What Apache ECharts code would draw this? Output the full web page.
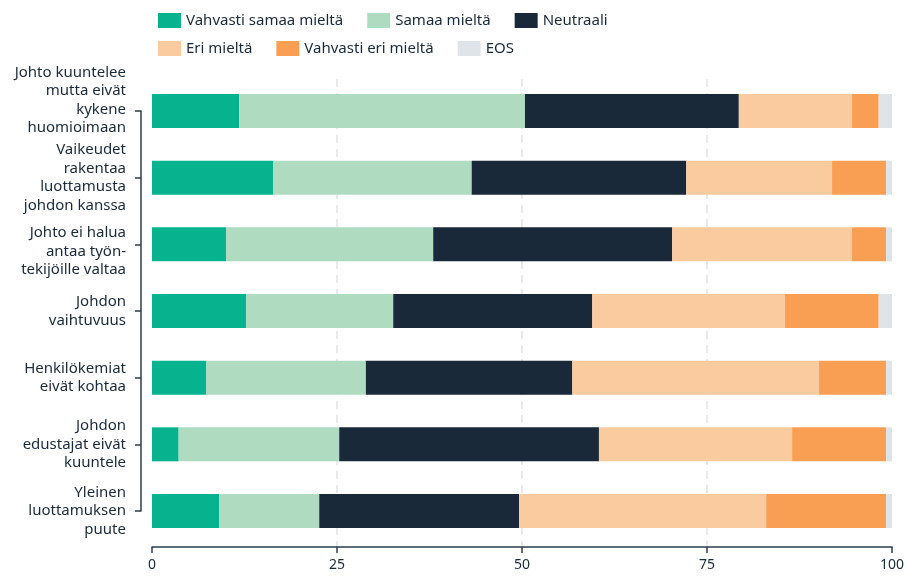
<!DOCTYPE html>
<html>
<head>
<meta charset="utf-8">
<script src="https://cdn.jsdelivr.net/npm/echarts@6/dist/echarts.min.js"></script>
<style>
  html, body { margin: 0; padding: 0; background: #fff; }
  #chart { width: 908px; height: 580px; }
</style>
</head>
<body>
<div id="chart"></div>
<script>
var categories = [
  'Johto kuuntelee\nmutta eivät\nkykene\nhuomioimaan',
  'Vaikeudet\nrakentaa\nluottamusta\njohdon kanssa',
  'Johto ei halua\nantaa työn-\ntekijöille valtaa',
  'Johdon\nvaihtuvuus',
  'Henkilökemiat\neivät kohtaa',
  'Johdon\nedustajat eivät\nkuuntele',
  'Yleinen\nluottamuksen\npuute'
];
var vahvastiSamaa = [11.8, 16.4, 10.0, 12.7, 7.3, 3.6, 9.1];
var samaa = [38.6, 26.8, 28.0, 19.9, 21.6, 21.7, 13.5];
var neutraali = [28.9, 29.0, 32.3, 26.9, 27.9, 35.1, 27.0];
var eri = [15.3, 19.7, 24.3, 26.0, 33.3, 26.1, 33.4];
var vahvastiEri = [3.6, 7.3, 4.6, 12.7, 9.1, 12.7, 16.2];
var eos = [1.8, 0.8, 0.8, 1.8, 0.8, 0.8, 0.8];
var xTicks = [0, 25, 50, 75, 100];

var names = ['Vahvasti samaa mieltä', 'Samaa mieltä', 'Neutraali', 'Eri mieltä', 'Vahvasti eri mieltä', 'EOS'];
var values = [vahvastiSamaa, samaa, neutraali, eri, vahvastiEri, eos];
var colors = ['#06b38e', '#afdbc1', '#19293a', '#fbcba0', '#f99f54', '#dfe4e8'];

var font = 'Noto Sans';
var textColor = '#1b2a39';
var lineColor = '#2e3d4d';

// a few labels sit slightly off their tick in the original
var padBelow = { 0: 22 };
var padAbove = { 2: 14 };

var chart = echarts.init(document.getElementById('chart'));

var legendBase = {
  left: 153,
  itemWidth: 23,
  itemHeight: 15,
  itemGap: 24,
  icon: 'rect',
  textStyle: { fontSize: 15, color: textColor, fontFamily: font }
};

chart.setOption({
  animation: false,
  color: colors,
  legend: [
    Object.assign({ top: 8, data: names.slice(0, 3) }, legendBase),
    Object.assign({ top: 36, data: names.slice(3) }, legendBase)
  ],
  grid: [
    { left: 152, right: 16, top: 79, bottom: 33 },
    { left: 152, right: 16, top: 111, bottom: 69 }
  ],
  xAxis: [{
    gridIndex: 0,
    type: 'value',
    min: xTicks[0],
    max: xTicks[xTicks.length - 1],
    interval: xTicks[1] - xTicks[0],
    axisLine: { show: true, lineStyle: { color: lineColor, width: 1.5 } },
    axisTick: { show: true, length: 6, lineStyle: { color: lineColor, width: 1.5 } },
    axisLabel: { fontSize: 14, color: textColor, fontFamily: font, margin: 11 },
    splitLine: {
      show: true,
      showMinLine: false,
      showMaxLine: false,
      lineStyle: { color: '#dfe4ea', type: [8, 6], width: 1.5 }
    }
  }, {
    gridIndex: 1,
    type: 'value',
    min: xTicks[0],
    max: xTicks[xTicks.length - 1],
    show: false
  }],
  yAxis: [{
    gridIndex: 0,
    type: 'category',
    data: categories,
    show: false
  }, {
    gridIndex: 1,
    type: 'category',
    inverse: true,
    boundaryGap: false,
    data: categories,
    offset: 11,
    axisLine: { show: true, onZero: false, lineStyle: { color: lineColor, width: 1.5 } },
    axisTick: { show: true, length: 6, lineStyle: { color: lineColor, width: 1.5 } },
    axisLabel: {
      interval: 0, showMinLabel: true, showMaxLabel: true, hideOverlap: false,
      color: textColor, margin: 15, align: 'right',
      formatter: function (value) {
        var idx = categories.indexOf(value);
        var lines = value.split('\n').map(function (l) { return '{t|' + l + '}'; });
        if (padAbove[idx]) lines.unshift('{a|}');
        if (padBelow[idx]) lines.push('{b|}');
        return lines.join('\n');
      },
      rich: {
        t: { fontSize: 15, lineHeight: 18.5, color: textColor, fontFamily: font, align: 'right' },
        a: { fontSize: 1, lineHeight: padAbove[2], height: padAbove[2] },
        b: { fontSize: 1, lineHeight: padBelow[0], height: padBelow[0] }
      }
    },
    splitLine: { show: false }
  }],
  series: names.map(function (n, i) {
    return {
      name: n,
      type: 'bar',
      stack: 'total',
      xAxisIndex: 1,
      yAxisIndex: 1,
      barWidth: 34,
      clip: false,
      data: values[i]
    };
  })
});
</script>
</body>
</html>
